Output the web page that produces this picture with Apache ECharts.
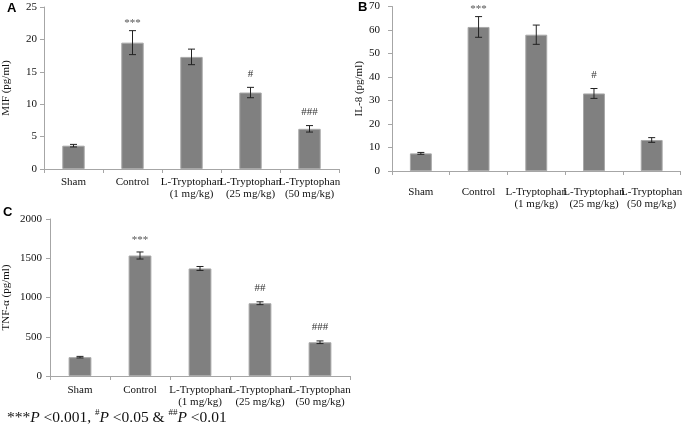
<!DOCTYPE html>
<html><head><meta charset="utf-8">
<script src="https://cdn.jsdelivr.net/npm/echarts@6/dist/echarts.min.js"></script>
<style>html,body{margin:0;padding:0;background:#fff}#c{width:685px;height:434px}</style>
</head><body><div id="c"></div>
<script>
var categories = ['Sham', 'Control', 'L-Tryptophan\n(1 mg/kg)', 'L-Tryptophan\n(25 mg/kg)', 'L-Tryptophan\n(50 mg/kg)'];
var mifValues = [3.6, 19.5, 17.3, 11.8, 6.2];
var mifErrors = [0.2, 1.85, 1.2, 0.8, 0.5];
var mifMarks = ['', '***', '', '#', '###'];
var il8Values = [7.5, 61.3, 58.0, 33.0, 13.2];
var il8Errors = [0.4, 4.4, 4.1, 2.1, 1.0];
var il8Marks = ['', '***', '', '#', ''];
var tnfValues = [240, 1535, 1370, 927, 430];
var tnfErrors = [10, 45, 25, 18, 17];
var tnfMarks = ['', '***', '', '##', '###'];
var mifTicks = {min: 0, max: 25, interval: 5};
var il8Ticks = {min: 0, max: 70, interval: 10};
var tnfTicks = {min: 0, max: 2000, interval: 500};

var SERIF = '"Liberation Serif", "Times New Roman", serif';
var axisGray = '#a6a6a6';

function xAxis(idx, margin) {
  return {
    type: 'category', gridIndex: idx, data: categories,
    axisLine: {lineStyle: {color: axisGray}},
    axisTick: {show: true, alignWithLabel: false, length: 4, lineStyle: {color: axisGray}},
    axisLabel: {interval: 0, color: '#111', fontFamily: SERIF, fontSize: 11, lineHeight: 12, margin: margin}
  };
}
function yAxis(idx, t, name, gap, lm) {
  return {
    type: 'value', gridIndex: idx, min: t.min, max: t.max, interval: t.interval,
    name: name, nameLocation: 'middle', nameGap: gap, nameRotate: 90,
    nameTextStyle: {fontFamily: SERIF, fontSize: 11, color: '#111'},
    axisLine: {show: true, lineStyle: {color: axisGray}},
    axisTick: {show: true, length: 4, lineStyle: {color: axisGray}},
    splitLine: {show: false},
    axisLabel: {color: '#111', fontFamily: SERIF, fontSize: 11, margin: lm,
      formatter: function (v) { return String(v); }}
  };
}
function barSeries(idx, vals) {
  return {
    type: 'bar', xAxisIndex: idx, yAxisIndex: idx, data: vals, barWidth: '38%',
    itemStyle: {color: '#808080', borderColor: '#a8a8a8', borderWidth: 1},
    silent: true, animation: false
  };
}
function errSeries(idx, vals, errs, marks, starGap) {
  var data = vals.map(function (v, i) { return [i, v, errs[i], marks[i]]; });
  return {
    type: 'custom', xAxisIndex: idx, yAxisIndex: idx, data: data, z: 10, silent: true, animation: false,
    renderItem: function (params, api) {
      var x = api.value(0), v = api.value(1), e = api.value(2), m = api.value(3);
      var top = api.coord([x, v + e]), bot = api.coord([x, v - e]);
      var cx = top[0], hw = 3.5;
      var st = {stroke: '#222', lineWidth: 1};
      var children = [
        {type: 'line', shape: {x1: cx, y1: top[1], x2: cx, y2: bot[1]}, style: st},
        {type: 'line', shape: {x1: cx - hw, y1: top[1], x2: cx + hw, y2: top[1]}, style: st},
        {type: 'line', shape: {x1: cx - hw, y1: bot[1], x2: cx + hw, y2: bot[1]}, style: st}
      ];
      if (m) {
        var star = m.indexOf('*') >= 0;
        children.push({type: 'text', style: {text: m, x: cx, y: top[1] - (star ? starGap : 8), align: 'center', verticalAlign: 'bottom',
          fill: star ? '#555' : '#333', font: '11px ' + SERIF}});
      }
      return {type: 'group', children: children};
    }
  };
}

var LETTER = 'bold 13px "Liberation Sans", Arial, sans-serif';
var chart = echarts.init(document.getElementById('c'), null, {renderer: 'canvas'});
chart.setOption({
  animation: false,
  grid: [
    {left: 42, top: 7, width: 297, height: 162},
    {left: 392, top: 6.5, width: 292, height: 164.5},
    {left: 48, top: 219, width: 302, height: 157}
  ],
  xAxis: [xAxis(0, 7), xAxis(1, 15), xAxis(2, 8)],
  yAxis: [
    yAxis(0, mifTicks, 'MIF (pg/ml)', 32, 7),
    yAxis(1, il8Ticks, 'IL-8 (pg/ml)', 25, 12),
    yAxis(2, tnfTicks, 'TNF-\u03b1 (pg/ml)', 38, 8)
  ],
  series: [
    barSeries(0, mifValues), errSeries(0, mifValues, mifErrors, mifMarks, 2),
    barSeries(1, il8Values), errSeries(1, il8Values, il8Errors, il8Marks, 2),
    barSeries(2, tnfValues), errSeries(2, tnfValues, tnfErrors, tnfMarks, 6)
  ],
  graphic: [
    {type: 'text', left: 7, top: 2, style: {text: 'A', font: LETTER, fill: '#000'}},
    {type: 'text', left: 358, top: 1, style: {text: 'B', font: LETTER, fill: '#000'}},
    {type: 'text', left: 3, top: 206, style: {text: 'C', font: LETTER, fill: '#000'}},
    {type: 'text', left: 7, top: 408, style: {
      text: '{n|***}{i|P}{n| <0.001, }{s|#}{i|P}{n| <0.05 & }{s|##}{i|P}{n| <0.01}',
      rich: {
        n: {font: '15.5px ' + SERIF, fill: '#111', verticalAlign: 'bottom', lineHeight: 18},
        i: {font: 'italic 15.5px ' + SERIF, fill: '#111', verticalAlign: 'bottom', lineHeight: 18},
        s: {font: '9px ' + SERIF, fill: '#111', verticalAlign: 'top', lineHeight: 18}
      }
    }}
  ]
});
</script></body></html>
